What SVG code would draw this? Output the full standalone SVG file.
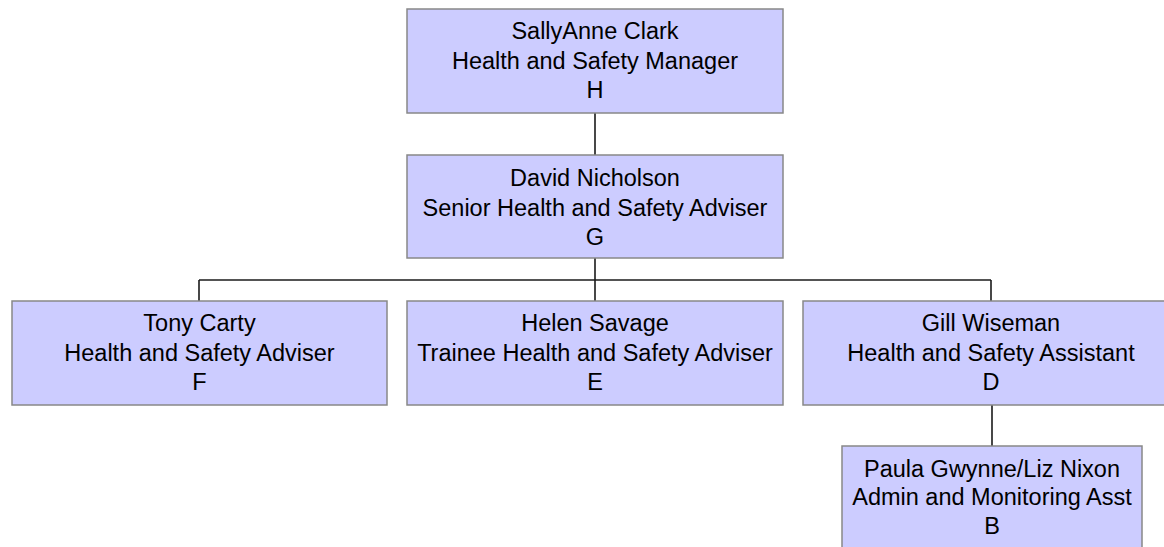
<svg xmlns="http://www.w3.org/2000/svg" width="1164" height="547" viewBox="0 0 1164 547">
<style>
.box{fill:#ccccff;stroke:#888888;stroke-width:1.5}
.lbl{font-family:"Liberation Sans",Arial,sans-serif;font-size:23.5px;fill:#000;text-anchor:middle}
.conn{fill:none;stroke:#1a1a1a;stroke-width:1.6}
</style>
<rect width="1164" height="547" fill="#ffffff"/>
<g id="connectors">
<line class="conn" x1="595" y1="113" x2="595" y2="155"/>
<line class="conn" x1="595" y1="258" x2="595" y2="301"/>
<line class="conn" x1="199" y1="280" x2="991" y2="280"/>
<line class="conn" x1="199" y1="280" x2="199" y2="301"/>
<line class="conn" x1="991" y1="280" x2="991" y2="301"/>
<line class="conn" x1="992" y1="405" x2="992" y2="446"/>
</g>
<g id="node-H">
<rect class="box" x="407" y="9" width="376" height="104"/>
<text class="lbl" x="595" y="39">SallyAnne Clark</text>
<text class="lbl" x="595" y="68.5">Health and Safety Manager</text>
<text class="lbl" x="595" y="98">H</text>
</g>
<g id="node-G">
<rect class="box" x="407" y="155" width="376" height="103"/>
<text class="lbl" x="595" y="186">David Nicholson</text>
<text class="lbl" x="595" y="215.5">Senior Health and Safety Adviser</text>
<text class="lbl" x="595" y="245">G</text>
</g>
<g id="node-F">
<rect class="box" x="12" y="301" width="375" height="104"/>
<text class="lbl" x="199.5" y="331">Tony Carty</text>
<text class="lbl" x="199.5" y="360.5">Health and Safety Adviser</text>
<text class="lbl" x="199.5" y="390">F</text>
</g>
<g id="node-E">
<rect class="box" x="407" y="301" width="376" height="104"/>
<text class="lbl" x="595" y="331">Helen Savage</text>
<text class="lbl" x="595" y="360.5">Trainee Health and Safety Adviser</text>
<text class="lbl" x="595" y="390">E</text>
</g>
<g id="node-D">
<rect class="box" x="803" y="301" width="376" height="104"/>
<text class="lbl" x="991" y="331">Gill Wiseman</text>
<text class="lbl" x="991" y="360.5">Health and Safety Assistant</text>
<text class="lbl" x="991" y="390">D</text>
</g>
<g id="node-B">
<rect class="box" x="842" y="446" width="300" height="104"/>
<text class="lbl" x="992" y="476.5">Paula Gwynne/Liz Nixon</text>
<text class="lbl" x="992" y="505">Admin and Monitoring Asst</text>
<text class="lbl" x="992" y="534">B</text>
</g>
</svg>
